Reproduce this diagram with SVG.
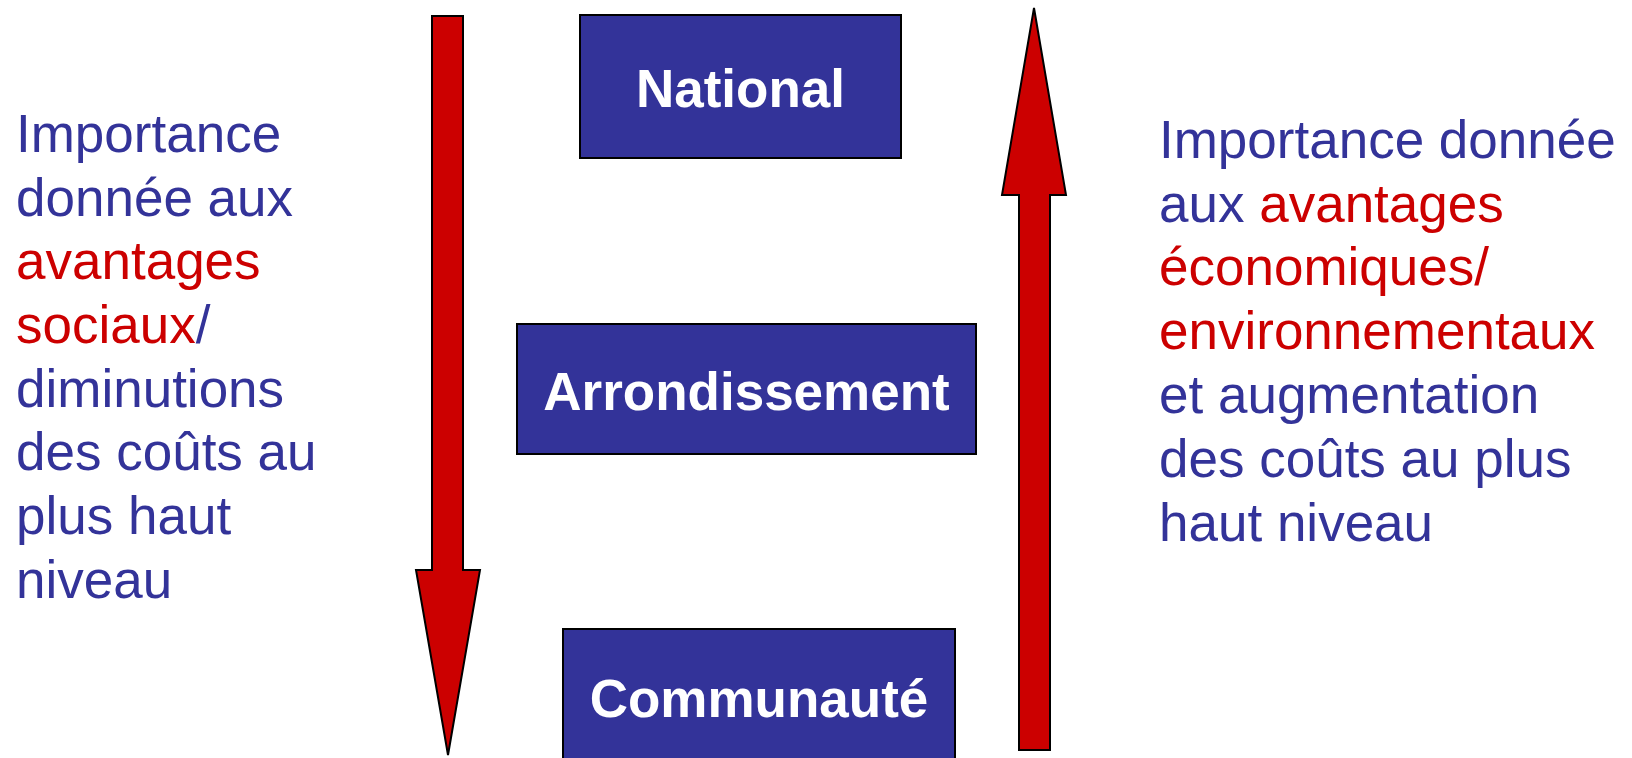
<svg xmlns="http://www.w3.org/2000/svg" width="1632" height="758" viewBox="0 0 1632 758">
<style>
.box{fill:#333399;stroke:#000;stroke-width:2}
.arrow{fill:#CC0000;stroke:#000;stroke-width:2;stroke-linejoin:miter}
.lbl{font-family:"Liberation Sans",Arial,sans-serif;font-weight:bold;font-size:53px;fill:#fff;text-anchor:middle}
.txt{font-family:"Liberation Sans",Arial,sans-serif;font-size:53px;fill:#333399}
.red{fill:#CC0000}
</style>
<rect width="1632" height="758" fill="#fff"/>
<g id="connectors">
<polygon class="arrow" points="432,16 463,16 463,570 480,570 448,755 416,570 432,570"/>
<polygon class="arrow" points="1034,8 1066,195 1050,195 1050,750 1019,750 1019,195 1002,195"/>
</g>
<g id="national">
<rect class="box" x="580" y="15" width="321" height="143"/>
<text class="lbl" x="740.5" y="107">National</text>
</g>
<g id="arrondissement">
<rect class="box" x="517" y="324" width="459" height="130"/>
<text class="lbl" x="746.5" y="410">Arrondissement</text>
</g>
<g id="communaute">
<rect class="box" x="563" y="629" width="392" height="140"/>
<text class="lbl" x="759" y="717">Communauté</text>
</g>
<g id="left-text">
<text class="txt" x="16" y="152">Importance</text>
<text class="txt" x="16" y="216">donnée aux</text>
<text class="txt red" x="16" y="279">avantages</text>
<text class="txt" x="16" y="343"><tspan class="red">sociaux</tspan>/</text>
<text class="txt" x="16" y="407">diminutions</text>
<text class="txt" x="16" y="470">des coûts au</text>
<text class="txt" x="16" y="534">plus haut</text>
<text class="txt" x="16" y="598">niveau</text>
</g>
<g id="right-text">
<text class="txt" x="1159" y="158">Importance donnée</text>
<text class="txt" x="1159" y="222">aux <tspan class="red">avantages</tspan></text>
<text class="txt red" x="1159" y="285">économiques/</text>
<text class="txt red" x="1159" y="349">environnementaux</text>
<text class="txt" x="1159" y="413">et augmentation</text>
<text class="txt" x="1159" y="477">des coûts au plus</text>
<text class="txt" x="1159" y="541">haut niveau</text>
</g>
</svg>
